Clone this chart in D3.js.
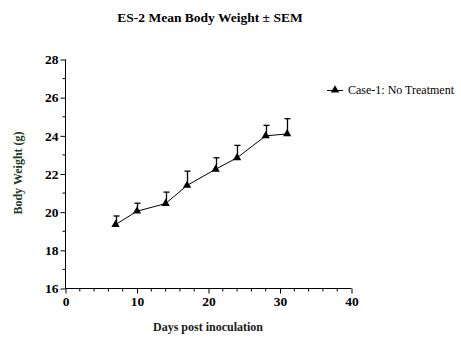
<!DOCTYPE html>
<html><head><meta charset="utf-8">
<script src="https://cdn.jsdelivr.net/npm/d3@7"></script>
<style>body{margin:0;background:#fff}svg{display:block}text{font-family:"Liberation Serif","Times New Roman",serif}</style>
</head><body><svg id="c" width="461" height="360"></svg>
<script>
const days = [7, 10, 14, 17, 21, 24, 28, 31];
const means = [19.35, 20.05, 20.45, 21.4, 22.25, 22.85, 24.0, 24.1];
const sems = [0.45, 0.42, 0.6, 0.75, 0.6, 0.65, 0.55, 0.8];
const xTicks = [0, 10, 20, 30, 40];
const yTicks = [16, 18, 20, 22, 24, 26, 28];
const seriesName = "Case-1: No Treatment";
const title = "ES-2 Mean Body Weight \u00b1 SEM";

const svg = d3.select("#c");
const x = d3.scaleLinear().domain([0, 40]).range([65.5, 351.5]);
const y = d3.scaleLinear().domain([16, 28]).range([288.5, 59.5]);

// x axis
const xAxis = d3.axisBottom(x).tickValues(xTicks).tickSize(5).tickFormat(d3.format("d"));
const gx = svg.append("g").attr("transform", "translate(0,288.5)").call(xAxis);
gx.append("g").selectAll("line").data(d3.range(0, 41, 2).filter(v => v % 10 !== 0))
  .join("line").attr("x1", d => x(d)).attr("x2", d => x(d)).attr("y1", 0).attr("y2", 3).attr("stroke", "#000");
// y axis
const yAxis = d3.axisLeft(y).tickValues(yTicks).tickSize(5).tickFormat(d3.format("d"));
const gy = svg.append("g").attr("transform", "translate(65.5,0)").call(yAxis);
gy.append("g").selectAll("line").data(d3.range(17, 28, 2))
  .join("line").attr("x1", 0).attr("x2", -3).attr("y1", d => y(d)).attr("y2", d => y(d)).attr("stroke", "#000");

[gx, gy].forEach(g => {
  g.select(".domain").attr("stroke", "#000").attr("stroke-width", 1);
  g.selectAll(".tick line").attr("stroke", "#000");
  g.selectAll(".tick text").attr("fill", "#000").style("font-family", "'Liberation Serif',serif")
    .style("font-size", "13.5px").style("font-weight", "bold");
});
gx.select(".domain").attr("d", "M65.5,0H351.5");
gy.select(".domain").attr("d", "M0,59.5V288.5");
gx.selectAll(".tick text").attr("y", 8);
gy.selectAll(".tick text").attr("x", -7);

// line
const line = d3.line().x((d, i) => x(days[i])).y(d => y(d));
svg.append("path").datum(means).attr("d", line).attr("fill", "none").attr("stroke", "#000").attr("stroke-width", 1);

// error bars (upper only)
const eb = svg.append("g").attr("stroke", "#000").attr("stroke-width", 1.3);
days.forEach((d, i) => {
  const cx = Math.round(x(d)) + 0.5;
  const top = y(means[i] + sems[i]);
  eb.append("line").attr("x1", cx).attr("x2", cx).attr("y1", y(means[i])).attr("y2", top);
  eb.append("line").attr("x1", cx - 3).attr("x2", cx + 3).attr("y1", top).attr("y2", top);
});

// markers
const tri = d3.symbol().type(d3.symbolTriangle).size(30);
svg.append("g").selectAll("path").data(days).join("path")
  .attr("d", tri).attr("transform", (d, i) => `translate(${x(d)},${y(means[i])})`).attr("fill", "#000");

// legend
svg.append("line").attr("x1", 327).attr("x2", 343).attr("y1", 90.5).attr("y2", 90.5).attr("stroke", "#000");
svg.append("path").attr("d", tri).attr("transform", "translate(335,90)").attr("fill", "#000");
svg.append("text").attr("x", 348).attr("y", 94).attr("font-size", "12px").attr("fill", "#000").text(seriesName);

// titles
svg.append("text").attr("x", 210).attr("y", 22).attr("text-anchor", "middle").attr("font-size", "13.5px").attr("font-weight", "bold").text(title);
svg.append("text").attr("x", 208).attr("y", 331).attr("text-anchor", "middle").attr("font-size", "12px").attr("font-weight", "bold").attr("fill", "#1a1a1a").text("Days post inoculation");
svg.append("text").attr("transform", "translate(22,173) rotate(-90)").attr("text-anchor", "middle").attr("font-size", "12px").attr("font-weight", "bold").attr("fill", "#1f3a1f").text("Body Weight (g)");
</script></body></html>
